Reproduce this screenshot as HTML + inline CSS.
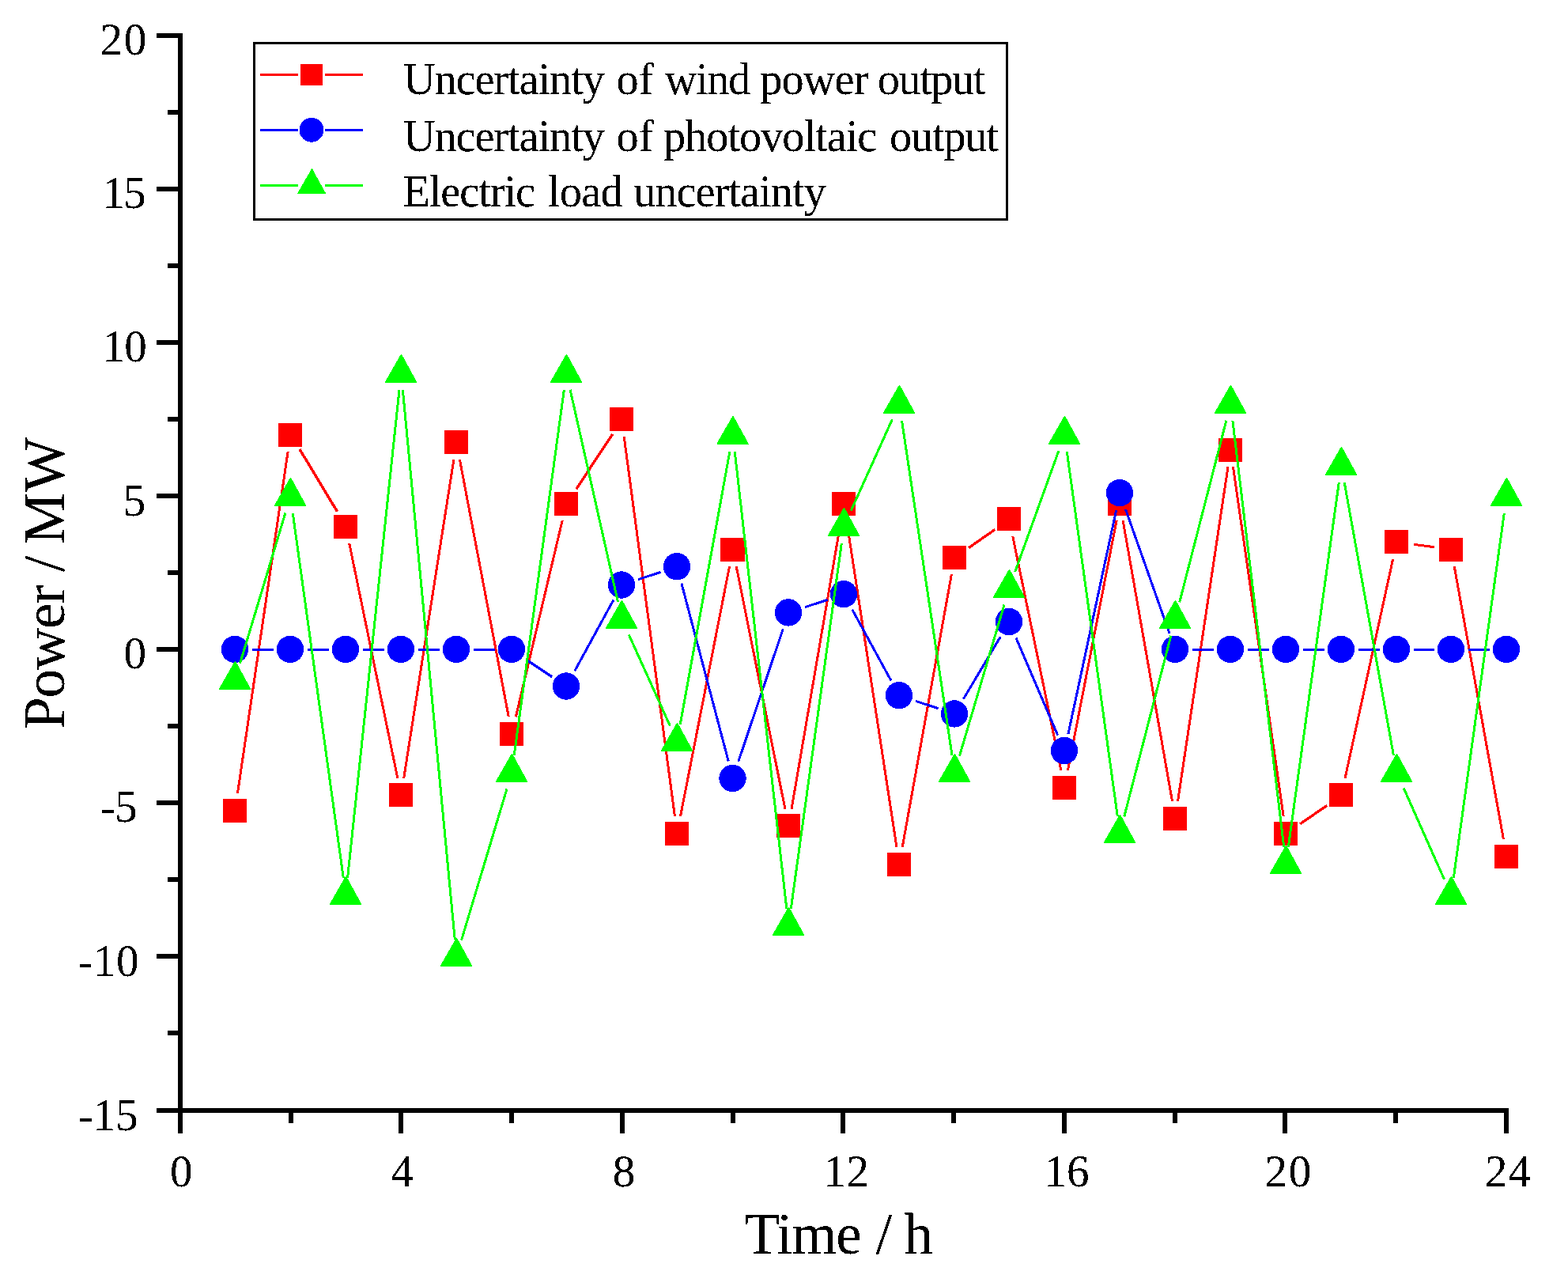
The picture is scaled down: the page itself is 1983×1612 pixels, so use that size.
<!DOCTYPE html>
<html lang="en">
<head>
<meta charset="utf-8">
<title>Uncertainty of wind power, photovoltaic output and electric load</title>
<style>
html,body{margin:0;padding:0;background:#fff;}
body{width:1983px;height:1612px;overflow:hidden;}
svg{display:block;}
text{font-family:"Liberation Serif","Times New Roman",Times,serif;fill:#000;}
</style>
</head>
<body>
<svg width="1983" height="1612" viewBox="0 0 1983 1612" role="img" aria-label="Line chart of power uncertainty over 24 hours">
<defs><filter id="th" x="-5%" y="-20%" width="110%" height="140%" color-interpolation-filters="sRGB"><feComponentTransfer><feFuncA type="discrete" tableValues="0 0 0 0 0 0 0 0 0 1 1 1 1 1 1 1 1 1 1 1"/></feComponentTransfer></filter></defs>
<rect x="0" y="0" width="1983" height="1612" fill="#ffffff"/>
<g shape-rendering="crispEdges">
<path d="M300.48 1002.93L364.12 571.07M441.7 686.85L502.9 984.15M510.68 983.96L573.92 581.04M581.37 580.92L643.23 906.08M652.33 906.29L711.27 657.71M789.19 552.11L853.41 1031.89M860.5 1032.11L922.6 715.89M931.1 715.87L993 1023.13M1000.99 1023.01L1063.61 657.99M1070.61 658.05L1133.99 1070.95M1141.17 1071.05L1203.43 725.95M1280.71 677.85L1341.89 974.15M1350.47 974.1L1412.13 657.9M1420.08 657.97L1482.52 1013.03M1489.54 1012.94L1553.06 590.06M1559.41 590.08L1623.19 1031.92M1700.96 984.2L1761.64 706.8M1787.92 688.32L1813.68 691.68M1839.17 715.95L1901.43 1061.05" fill="none" stroke="#ff0000" stroke-width="3"/>
<path d="M1225.2 692.55L1258.4 669.45" fill="none" stroke="#ff0000" stroke-width="3.28"/>
<path d="M1644.28 1041.67L1678.32 1018.33" fill="none" stroke="#ff0000" stroke-width="3.3"/>
<path d="M728.81 618.31L774.79 548.69" fill="none" stroke="#ff0000" stroke-width="3.34"/>
<path d="M379.06 568.16L426.54 646.84" fill="none" stroke="#ff0000" stroke-width="3.42"/>
<rect x="282" y="1010" width="30" height="30" fill="#ff0000"/>
<rect x="352" y="535" width="30" height="30" fill="#ff0000"/>
<rect x="422" y="651" width="30" height="30" fill="#ff0000"/>
<rect x="492" y="990" width="30" height="30" fill="#ff0000"/>
<rect x="562" y="544" width="30" height="30" fill="#ff0000"/>
<rect x="632" y="913" width="30" height="30" fill="#ff0000"/>
<rect x="701" y="622" width="30" height="30" fill="#ff0000"/>
<rect x="771" y="515" width="30" height="30" fill="#ff0000"/>
<rect x="841" y="1039" width="30" height="30" fill="#ff0000"/>
<rect x="911" y="680" width="31" height="30" fill="#ff0000"/>
<rect x="982" y="1029" width="30" height="30" fill="#ff0000"/>
<rect x="1052" y="622" width="30" height="30" fill="#ff0000"/>
<rect x="1122" y="1078" width="30" height="30" fill="#ff0000"/>
<rect x="1192" y="690" width="30" height="30" fill="#ff0000"/>
<rect x="1261" y="641" width="30" height="30" fill="#ff0000"/>
<rect x="1331" y="981" width="30" height="30" fill="#ff0000"/>
<rect x="1401" y="622" width="30" height="30" fill="#ff0000"/>
<rect x="1471" y="1020" width="30" height="30" fill="#ff0000"/>
<rect x="1541" y="554" width="30" height="30" fill="#ff0000"/>
<rect x="1611" y="1039" width="30" height="30" fill="#ff0000"/>
<rect x="1681" y="990" width="30" height="30" fill="#ff0000"/>
<rect x="1751" y="670" width="30" height="30" fill="#ff0000"/>
<rect x="1820" y="680" width="30" height="30" fill="#ff0000"/>
<rect x="1890" y="1068" width="30" height="30" fill="#ff0000"/>
<path d="M319.1 821.5L345.5 821.5M389.1 821.5L415.5 821.5M459.1 821.5L485.5 821.5M529.1 821.5L555.5 821.5M599.1 821.5L625.5 821.5M726.76 848.37L775.84 758.63M807.01 732.7L835.59 723.3M861.87 737.58L921.23 962.42M933.77 962.84L990.33 795.16M1018.01 767.7L1046.59 758.3M1077.76 770.63L1126.84 860.37M1158.01 886.3L1186.59 895.7M1218.44 883.76L1265.16 805.24M1284.9 806.53L1337.7 929.47M1350.88 928.19L1411.72 644.81M1423.57 644.05L1479.03 800.95M1508.1 821.5L1534.5 821.5M1578.1 821.5L1604.5 821.5M1648.1 821.5L1674.5 821.5M1718.1 821.5L1744.5 821.5M1788.1 821.5L1813.5 821.5M1857.1 821.5L1883.5 821.5" fill="none" stroke="#0000ff" stroke-width="3"/>
<path d="M665.44 834.09L698.16 855.91" fill="none" stroke="#0000ff" stroke-width="3.33"/>
<circle cx="297" cy="820.95" r="17.2" fill="#0000ff"/>
<circle cx="367" cy="820.95" r="17.2" fill="#0000ff"/>
<circle cx="437" cy="820.95" r="17.2" fill="#0000ff"/>
<circle cx="507" cy="820.95" r="17.2" fill="#0000ff"/>
<circle cx="577" cy="820.95" r="17.2" fill="#0000ff"/>
<circle cx="647" cy="820.95" r="17.2" fill="#0000ff"/>
<circle cx="716" cy="867.51" r="17.2" fill="#0000ff"/>
<circle cx="786" cy="739.47" r="17.2" fill="#0000ff"/>
<circle cx="856" cy="716.19" r="17.2" fill="#0000ff"/>
<circle cx="926.5" cy="983.91" r="17.2" fill="#0000ff"/>
<circle cx="997" cy="774.39" r="17.2" fill="#0000ff"/>
<circle cx="1067" cy="751.11" r="17.2" fill="#0000ff"/>
<circle cx="1137" cy="879.15" r="17.2" fill="#0000ff"/>
<circle cx="1207" cy="902.43" r="17.2" fill="#0000ff"/>
<circle cx="1276" cy="786.03" r="17.2" fill="#0000ff"/>
<circle cx="1346" cy="948.99" r="17.2" fill="#0000ff"/>
<circle cx="1416" cy="623.07" r="17.2" fill="#0000ff"/>
<circle cx="1486" cy="820.95" r="17.2" fill="#0000ff"/>
<circle cx="1556" cy="820.95" r="17.2" fill="#0000ff"/>
<circle cx="1626" cy="820.95" r="17.2" fill="#0000ff"/>
<circle cx="1696" cy="820.95" r="17.2" fill="#0000ff"/>
<circle cx="1766" cy="820.95" r="17.2" fill="#0000ff"/>
<circle cx="1835" cy="820.95" r="17.2" fill="#0000ff"/>
<circle cx="1905" cy="820.95" r="17.2" fill="#0000ff"/>
<path d="M303.6 838.63L361 648.37M370.3 649.09L434.3 1109.91M439.6 1109.82L505 493.18M509.36 493.2L575.24 1187.8M583.57 1188.62L641.03 997.38M650.25 954.9L713.35 493.1M721.09 492.77L781.51 761.23M795.27 802.37L847.33 917.63M860.2 916.05L922.9 570.95M929.26 571.16L994.84 1148.84M1000.29 1148.91L1064.31 687.09M1076.27 645.63L1128.33 530.37M1140.54 532.06L1204.06 954.94M1213.49 955.6L1270.11 764.4M1283.7 722.99L1338.9 570.01M1349.3 571.09L1413.3 1031.91M1421.75 1032.39L1480.85 803.61M1491.73 761.39L1550.87 531.61M1558.9 532.14L1623.7 1070.86M1629.3 1070.91L1693.3 610.09M1700.17 609.95L1762.43 955.05M1775.17 996.42L1826.43 1111.58M1838.3 1109.91L1902.3 649.09" fill="none" stroke="#00ff00" stroke-width="3"/>
<path d="M277 872L277 870.61L296.7 836.4L298.3 836.4L317 870.61L317 872Z" fill="#00ff00"/>
<path d="M347 640L347 638.61L366.7 604.4L368.3 604.4L387 638.61L387 640Z" fill="#00ff00"/>
<path d="M417 1144L417 1142.61L436.7 1108.4L438.3 1108.4L457 1142.61L457 1144Z" fill="#00ff00"/>
<path d="M487 484L487 482.61L506.7 448.4L508.3 448.4L527 482.61L527 484Z" fill="#00ff00"/>
<path d="M557 1222L557 1220.61L576.7 1186.4L578.3 1186.4L597 1220.61L597 1222Z" fill="#00ff00"/>
<path d="M627 989L627 987.61L646.7 953.4L648.3 953.4L667 987.61L667 989Z" fill="#00ff00"/>
<path d="M696 484L696 482.61L715.7 448.4L717.3 448.4L736 482.61L736 484Z" fill="#00ff00"/>
<path d="M766 795L766 793.61L785.7 759.4L787.3 759.4L806 793.61L806 795Z" fill="#00ff00"/>
<path d="M836 950L836 948.61L855.7 914.4L857.3 914.4L876 948.61L876 950Z" fill="#00ff00"/>
<path d="M906.5 562L906.5 560.61L926.2 526.4L927.8 526.4L946.5 560.61L946.5 562Z" fill="#00ff00"/>
<path d="M977 1183L977 1181.61L996.7 1147.4L998.3 1147.4L1017 1181.61L1017 1183Z" fill="#00ff00"/>
<path d="M1047 678L1047 676.61L1066.7 642.4L1068.3 642.4L1087 676.61L1087 678Z" fill="#00ff00"/>
<path d="M1117 523L1117 521.61L1136.7 487.4L1138.3 487.4L1157 521.61L1157 523Z" fill="#00ff00"/>
<path d="M1187 989L1187 987.61L1206.7 953.4L1208.3 953.4L1227 987.61L1227 989Z" fill="#00ff00"/>
<path d="M1256 756L1256 754.61L1275.7 720.4L1277.3 720.4L1296 754.61L1296 756Z" fill="#00ff00"/>
<path d="M1326 562L1326 560.61L1345.7 526.4L1347.3 526.4L1366 560.61L1366 562Z" fill="#00ff00"/>
<path d="M1396 1066L1396 1064.61L1415.7 1030.4L1417.3 1030.4L1436 1064.61L1436 1066Z" fill="#00ff00"/>
<path d="M1466 795L1466 793.61L1485.7 759.4L1487.3 759.4L1506 793.61L1506 795Z" fill="#00ff00"/>
<path d="M1536 523L1536 521.61L1555.7 487.4L1557.3 487.4L1576 521.61L1576 523Z" fill="#00ff00"/>
<path d="M1606 1105L1606 1103.61L1625.7 1069.4L1627.3 1069.4L1646 1103.61L1646 1105Z" fill="#00ff00"/>
<path d="M1676 601L1676 599.61L1695.7 565.4L1697.3 565.4L1716 599.61L1716 601Z" fill="#00ff00"/>
<path d="M1746 989L1746 987.61L1765.7 953.4L1767.3 953.4L1786 987.61L1786 989Z" fill="#00ff00"/>
<path d="M1815 1144L1815 1142.61L1834.7 1108.4L1836.3 1108.4L1855 1142.61L1855 1144Z" fill="#00ff00"/>
<path d="M1885 640L1885 638.61L1904.7 604.4L1906.3 604.4L1925 638.61L1925 640Z" fill="#00ff00"/>
</g>
<g fill="#000" shape-rendering="crispEdges">
<rect x="225" y="42" width="6" height="1365"/>
<rect x="198" y="1401" width="1710" height="6"/>
<rect x="198" y="1401" width="28" height="6"/>
<rect x="212" y="1303" width="14" height="6"/>
<rect x="198" y="1206" width="28" height="6"/>
<rect x="212" y="1109" width="14" height="6"/>
<rect x="198" y="1012" width="28" height="6"/>
<rect x="212" y="915" width="14" height="6"/>
<rect x="198" y="818" width="28" height="6"/>
<rect x="212" y="721" width="14" height="6"/>
<rect x="198" y="624" width="28" height="6"/>
<rect x="212" y="527" width="14" height="6"/>
<rect x="198" y="430" width="28" height="6"/>
<rect x="212" y="333" width="14" height="6"/>
<rect x="198" y="236" width="28" height="6"/>
<rect x="212" y="139" width="14" height="6"/>
<rect x="198" y="42" width="28" height="6"/>
<rect x="225" y="1406" width="6" height="27"/>
<rect x="365" y="1406" width="6" height="14"/>
<rect x="504" y="1406" width="6" height="27"/>
<rect x="644" y="1406" width="6" height="14"/>
<rect x="784" y="1406" width="6" height="27"/>
<rect x="924" y="1406" width="6" height="14"/>
<rect x="1063" y="1406" width="6" height="27"/>
<rect x="1203" y="1406" width="6" height="14"/>
<rect x="1343" y="1406" width="6" height="27"/>
<rect x="1483" y="1406" width="6" height="14"/>
<rect x="1622" y="1406" width="6" height="27"/>
<rect x="1762" y="1406" width="6" height="14"/>
<rect x="1902" y="1406" width="6" height="27"/>
</g>
<rect x="321.5" y="54.5" width="952" height="223" fill="#fff" stroke="#000" stroke-width="3" shape-rendering="crispEdges"/>
<path d="M329 94.5H377M411 94.5H459" stroke="#ff0000" stroke-width="3" fill="none" shape-rendering="crispEdges"/>
<rect x="380" y="81" width="28" height="27" fill="#ff0000" shape-rendering="crispEdges"/>
<path d="M329 164.5H377M411 164.5H459" stroke="#0000ff" stroke-width="3" fill="none" shape-rendering="crispEdges"/>
<circle cx="394" cy="164.3" r="15.4" fill="#0000ff" shape-rendering="crispEdges"/>
<path d="M329 234.5H377M411 234.5H459" stroke="#00ff00" stroke-width="3" fill="none" shape-rendering="crispEdges"/>
<path d="M394.5 212.6L412.2 244.7L376 244.7Z" fill="#00ff00" shape-rendering="crispEdges"/>
<text filter="url(#th)" y="1500" font-size="57"><tspan x="215.09">0</tspan></text>
<text filter="url(#th)" y="1500" font-size="57"><tspan x="494.49">4</tspan></text>
<text filter="url(#th)" y="1500" font-size="57"><tspan x="774.8">8</tspan></text>
<text filter="url(#th)" y="1500" font-size="57"><tspan x="1041.48" textLength="57.61" lengthAdjust="spacing">12</tspan></text>
<text filter="url(#th)" y="1500" font-size="57"><tspan x="1320.58" textLength="56.83" lengthAdjust="spacing">16</tspan></text>
<text filter="url(#th)" y="1500" font-size="57"><tspan x="1599.49" textLength="58.81" lengthAdjust="spacing">20</tspan></text>
<text filter="url(#th)" y="1500" font-size="57"><tspan x="1878.09" textLength="58.01" lengthAdjust="spacing">24</tspan></text>
<text filter="url(#th)" y="69.3" font-size="57"><tspan x="126.49" textLength="58.83" lengthAdjust="spacing">20</tspan></text>
<text filter="url(#th)" y="263.4" font-size="57"><tspan x="129.48" textLength="54.97" lengthAdjust="spacing">15</tspan></text>
<text filter="url(#th)" y="457.4" font-size="57"><tspan x="129.48" textLength="56.35" lengthAdjust="spacing">10</tspan></text>
<text filter="url(#th)" y="651.6" font-size="57"><tspan x="155.64">5</tspan></text>
<text filter="url(#th)" y="845.2" font-size="57"><tspan x="156.39">0</tspan></text>
<text filter="url(#th)" y="1039.4" font-size="57"><tspan x="127.37" textLength="46.23" lengthAdjust="spacing">-5</tspan></text>
<text filter="url(#th)" y="1233.6" font-size="57"><tspan x="98.57" textLength="76.94" lengthAdjust="spacing">-10</tspan></text>
<text filter="url(#th)" y="1428.6" font-size="57"><tspan x="98.67" textLength="75.71" lengthAdjust="spacing">-15</tspan></text>
<text filter="url(#th)" y="119.2" font-size="56.3"><tspan x="509.89" textLength="254.99" lengthAdjust="spacing">Uncertainty</tspan> <tspan x="779.62">of</tspan> <tspan x="840.82" textLength="108.4" lengthAdjust="spacing">wind</tspan> <tspan x="961.19" textLength="137.28" lengthAdjust="spacing">power</tspan> <tspan x="1109.82" textLength="136.52" lengthAdjust="spacing">output</tspan></text>
<text filter="url(#th)" y="190.7" font-size="56.3"><tspan x="509.89" textLength="254.99" lengthAdjust="spacing">Uncertainty</tspan> <tspan x="779.62">of</tspan> <tspan x="838.99" textLength="270.27" lengthAdjust="spacing">photovoltaic</tspan> <tspan x="1124.92" textLength="138.09" lengthAdjust="spacing">output</tspan></text>
<text filter="url(#th)" y="261.3" font-size="56.3"><tspan x="509.47" textLength="167.47" lengthAdjust="spacing">Electric</tspan> <tspan x="692.85" textLength="94.74" lengthAdjust="spacing">load</tspan> <tspan x="801.15" textLength="243.65" lengthAdjust="spacing">uncertainty</tspan></text>
<text filter="url(#th)" y="1584.7" font-size="73.2"><tspan x="941.45" textLength="148.17" lengthAdjust="spacing">Time</tspan> <tspan x="1107.74">/</tspan> <tspan x="1143.28">h</tspan></text>
<text filter="url(#th)" transform="translate(81 920) rotate(-90)" y="0" font-size="73.2"><tspan x="-2.03" textLength="182.76" lengthAdjust="spacing">Power</tspan> <tspan x="196.94">/</tspan> <tspan x="231.87">M</tspan><tspan x="298.04">W</tspan></text>
</svg>
</body>
</html>
